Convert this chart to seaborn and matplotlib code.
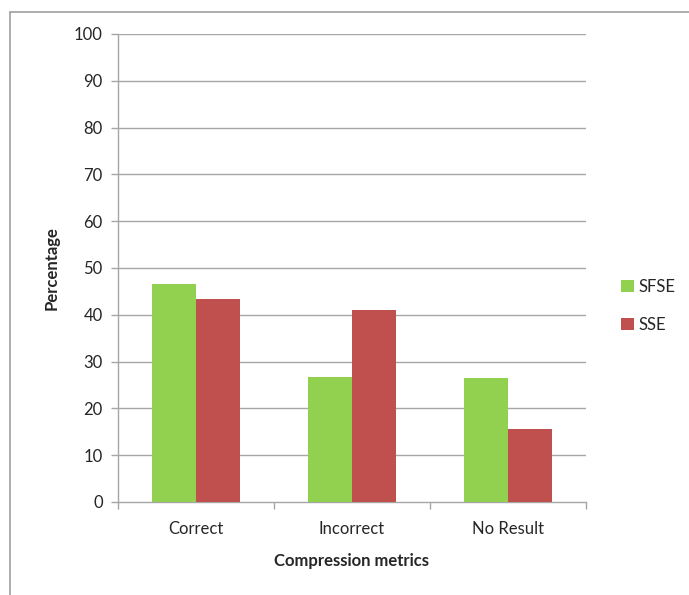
import matplotlib
matplotlib.use("Agg")
import matplotlib.pyplot as plt
from matplotlib.lines import Line2D
from matplotlib.patches import Patch
import seaborn as sns
import pandas as pd

categories = ["Correct", "Incorrect", "No Result"]
sfse = [46.5, 26.8, 26.4]
sse = [43.3, 41.0, 15.6]
series_names = ["SFSE", "SSE"]
colors = ["#92D050", "#C0504D"]

df = pd.DataFrame({
    "metric": categories * 2,
    "value": sfse + sse,
    "method": [series_names[0]] * 3 + [series_names[1]] * 3,
})

sns.set_theme(style="white")
plt.rcParams["font.family"] = ["Lato", "DejaVu Sans"]

fig = plt.figure(figsize=(6.89, 5.95), dpi=100)
ax = fig.add_axes([118 / 689, 93 / 595, 468 / 689, 468 / 595])

sns.barplot(data=df, x="metric", y="value", hue="method", palette=colors,
            width=0.57, ax=ax, saturation=1, legend=False, zorder=3,
            linewidth=0, edgecolor="none")

grid_c = "#A6A6A6"
ax.set_ylim(0, 100)
ax.set_xlim(-0.5, 2.5)
ax.set_yticks(range(0, 101, 10))
for y in range(10, 101, 10):
    ax.axhline(y, color=grid_c, lw=1.0, zorder=1)

for s in ["top", "right"]:
    ax.spines[s].set_visible(False)
for s in ["left", "bottom"]:
    ax.spines[s].set_color(grid_c)
    ax.spines[s].set_linewidth(1.0)

ax.tick_params(axis="y", which="both", direction="out", length=5, width=1,
               color=grid_c, labelsize=12, pad=6, left=True)
ax.set_xticks([-0.5, 0.5, 1.5, 2.5], minor=False)
ax.set_xticklabels([])
ax.set_xticks([0, 1, 2], minor=True)
ax.set_xticklabels(categories, minor=True)
ax.tick_params(axis="x", which="major", direction="out", length=5, width=1,
               color=grid_c, bottom=True)
ax.tick_params(axis="x", which="minor", length=0, labelsize=12, pad=14)

ax.set_xlabel("Compression metrics", fontsize=12, fontweight="bold", labelpad=11)
ax.set_ylabel("Percentage", fontsize=12, fontweight="bold", labelpad=10)

handles = [Patch(facecolor=c, edgecolor="none") for c in colors]
fig.legend(handles, series_names, loc="center left",
           bbox_to_anchor=(606 / 689, 1 - 306 / 595), frameon=False,
           fontsize=12, handlelength=0.75, handleheight=0.75,
           handletextpad=0.3, labelspacing=1.3)

# chart frame
fig.add_artist(Line2D([10 / 689, 10 / 689], [0, 1 - 12 / 595],
                      transform=fig.transFigure, color="#A0A0A0", lw=1.2))
fig.add_artist(Line2D([10 / 689, 1], [1 - 12 / 595, 1 - 12 / 595],
                      transform=fig.transFigure, color="#A0A0A0", lw=1.2))

fig.savefig("out.png", dpi=100)
